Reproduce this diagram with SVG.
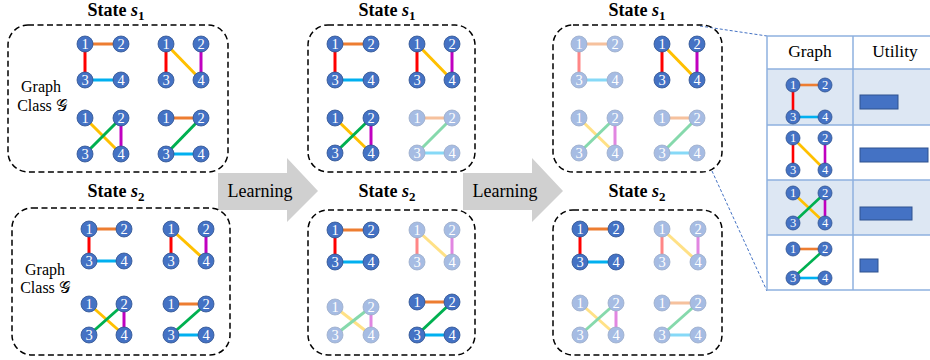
<svg xmlns="http://www.w3.org/2000/svg" xmlns:xlink="http://www.w3.org/1999/xlink" width="930" height="360" viewBox="0 0 930 360">
  <style>
    .e{stroke-width:3;fill:none}
    .te{stroke-width:2.6;fill:none}
    .or{stroke:#ED7D31}.rd{stroke:#FF0000}.cy{stroke:#00B0F0}
    .gd{stroke:#FFC000}.pu{stroke:#C000C0}.gr{stroke:#00B050}
    .nd{fill:#4472C4;stroke:#2F528F;stroke-width:0.8}
    .nl{font-family:"Liberation Serif","DejaVu Serif",serif;font-size:14.5px;fill:#fff;text-anchor:middle}
    .ml{font-family:"Liberation Serif","DejaVu Serif",serif;font-size:12.5px;fill:#fff;text-anchor:middle}
    .fade{opacity:.47}
    .box{fill:none;stroke:#000;stroke-width:1.5;stroke-dasharray:6 3.5}
    .ttl{font-family:"Liberation Serif","DejaVu Serif",serif;font-weight:bold;font-size:18px;text-anchor:middle;fill:#000}
    .lbl{font-family:"Liberation Serif","DejaVu Serif",serif;font-size:16px;text-anchor:middle;fill:#000}
    .arr{fill:#D0D0D0}
    .arrt{font-family:"Liberation Serif","DejaVu Serif",serif;font-size:18px;text-anchor:middle;fill:#000}
    .zoom{fill:none;stroke:#4472C4;stroke-width:1;stroke-dasharray:3 2}
    .grid{fill:none;stroke:#8EB1DF;stroke-width:1.5}
    .hd{font-family:"Liberation Serif","DejaVu Serif",serif;font-size:17.5px;text-anchor:middle;fill:#000}
    .bar{fill:#4472C4;stroke:#2F528F;stroke-width:1}
  </style>
  <defs>
    <g id="n1"><circle class="nd" r="8"/><text class="nl" y="5">1</text></g>
    <g id="n2"><circle class="nd" r="8"/><text class="nl" y="5">2</text></g>
    <g id="n3"><circle class="nd" r="8"/><text class="nl" y="5">3</text></g>
    <g id="n4"><circle class="nd" r="8"/><text class="nl" y="5">4</text></g>
    <g id="m1"><circle class="nd" r="7"/><text class="ml" y="4.4">1</text></g>
    <g id="m2"><circle class="nd" r="7"/><text class="ml" y="4.4">2</text></g>
    <g id="m3"><circle class="nd" r="7"/><text class="ml" y="4.4">3</text></g>
    <g id="m4"><circle class="nd" r="7"/><text class="ml" y="4.4">4</text></g>
  </defs>
  <rect width="930" height="360" fill="#fff"/>

  <!-- connectors: learning arrows and zoom-out guide lines -->
  <g id="connectors">
    <path class="arr" d="M218,173 L287,173 L287,158 L318,191 L287,222 L287,210 L218,210 Z"/>
    <text class="arrt" x="260" y="197">Learning</text>
    <path class="arr" d="M463,173 L532,173 L532,158 L563,191 L532,222 L532,210 L463,210 Z"/>
    <text class="arrt" x="505" y="197">Learning</text>
    <line class="zoom" x1="700" y1="26" x2="767" y2="36"/>
    <line class="zoom" x1="712" y1="171" x2="767" y2="291"/>
  </g>

  <!-- initial graph class, state s1 -->
  <g id="init-s1">
    <rect class="box" x="8" y="25" width="220" height="147" rx="20"/>
    <text class="ttl" x="116" y="16">State <tspan font-style="italic">s</tspan><tspan font-size="13" dy="4">1</tspan></text>
    <text class="lbl" x="41" y="92">Graph</text>
    <text class="lbl" x="42" y="111">Class 𝒢</text>
    <g id="init-s1-a" transform="translate(85,44)">
      <line class="e or" x2="36"/><line class="e rd" y2="36"/><line class="e cy" y1="36" x2="36" y2="36"/>
      <use href="#n1"/><use href="#n2" x="36"/><use href="#n3" y="36"/><use href="#n4" x="36" y="36"/>
    </g>
    <g id="init-s1-b" transform="translate(166,44)">
      <line class="e rd" y2="36"/><line class="e gd" x2="35" y2="36"/><line class="e pu" x1="35" x2="35" y2="36"/>
      <use href="#n1"/><use href="#n2" x="35"/><use href="#n3" y="36"/><use href="#n4" x="35" y="36"/>
    </g>
    <g id="init-s1-c" transform="translate(85,118)">
      <line class="e gd" x2="36" y2="36"/><line class="e gr" x1="36" y2="36"/><line class="e pu" x1="36" x2="36" y2="36"/>
      <use href="#n1"/><use href="#n2" x="36"/><use href="#n3" y="36"/><use href="#n4" x="36" y="36"/>
    </g>
    <g id="init-s1-d" transform="translate(166,118)">
      <line class="e or" x2="35"/><line class="e gr" x1="35" y2="36"/><line class="e cy" y1="36" x2="35" y2="36"/>
      <use href="#n1"/><use href="#n2" x="35"/><use href="#n3" y="36"/><use href="#n4" x="35" y="36"/>
    </g>
  </g>

  <!-- initial graph class, state s2 -->
  <g id="init-s2">
    <rect class="box" x="12" y="208" width="218" height="147" rx="20"/>
    <text class="ttl" x="116" y="197">State <tspan font-style="italic">s</tspan><tspan font-size="13" dy="4">2</tspan></text>
    <text class="lbl" x="45" y="275">Graph</text>
    <text class="lbl" x="45" y="293">Class 𝒢</text>
    <g id="init-s2-a" transform="translate(89,229)">
      <line class="e or" x2="35"/><line class="e rd" y2="32"/><line class="e cy" y1="32" x2="35" y2="32"/>
      <use href="#n1"/><use href="#n2" x="35"/><use href="#n3" y="32"/><use href="#n4" x="35" y="32"/>
    </g>
    <g id="init-s2-b" transform="translate(171,229)">
      <line class="e rd" y2="32"/><line class="e gd" x2="35" y2="32"/><line class="e pu" x1="35" x2="35" y2="32"/>
      <use href="#n1"/><use href="#n2" x="35"/><use href="#n3" y="32"/><use href="#n4" x="35" y="32"/>
    </g>
    <g id="init-s2-c" transform="translate(89,304)">
      <line class="e gd" x2="35" y2="31"/><line class="e gr" x1="35" y2="31"/><line class="e pu" x1="35" x2="35" y2="31"/>
      <use href="#n1"/><use href="#n2" x="35"/><use href="#n3" y="31"/><use href="#n4" x="35" y="31"/>
    </g>
    <g id="init-s2-d" transform="translate(171,304)">
      <line class="e or" x2="35"/><line class="e gr" x1="35" y2="31"/><line class="e cy" y1="31" x2="35" y2="31"/>
      <use href="#n1"/><use href="#n2" x="35"/><use href="#n3" y="31"/><use href="#n4" x="35" y="31"/>
    </g>
  </g>

  <!-- after first learning step, state s1 -->
  <g id="mid-s1">
    <rect class="box" x="308" y="25" width="167" height="147" rx="20"/>
    <text class="ttl" x="387" y="16">State <tspan font-style="italic">s</tspan><tspan font-size="13" dy="4">1</tspan></text>
    <g id="mid-s1-a" transform="translate(335,44)">
      <line class="e or" x2="36"/><line class="e rd" y2="36"/><line class="e cy" y1="36" x2="36" y2="36"/>
      <use href="#n1"/><use href="#n2" x="36"/><use href="#n3" y="36"/><use href="#n4" x="36" y="36"/>
    </g>
    <g id="mid-s1-b" transform="translate(417,44)">
      <line class="e rd" y2="36"/><line class="e gd" x2="35" y2="36"/><line class="e pu" x1="35" x2="35" y2="36"/>
      <use href="#n1"/><use href="#n2" x="35"/><use href="#n3" y="36"/><use href="#n4" x="35" y="36"/>
    </g>
    <g id="mid-s1-c" transform="translate(335,118)">
      <line class="e gd" x2="36" y2="35"/><line class="e gr" x1="36" y2="35"/><line class="e pu" x1="36" x2="36" y2="35"/>
      <use href="#n1"/><use href="#n2" x="36"/><use href="#n3" y="35"/><use href="#n4" x="36" y="35"/>
    </g>
    <g id="mid-s1-d" class="fade" transform="translate(417,118)">
      <line class="e or" x2="35"/><line class="e gr" x1="35" y2="35"/><line class="e cy" y1="35" x2="35" y2="35"/>
      <use href="#n1"/><use href="#n2" x="35"/><use href="#n3" y="35"/><use href="#n4" x="35" y="35"/>
    </g>
  </g>

  <!-- after first learning step, state s2 -->
  <g id="mid-s2">
    <rect class="box" x="308" y="210" width="167" height="145" rx="20"/>
    <text class="ttl" x="387" y="197">State <tspan font-style="italic">s</tspan><tspan font-size="13" dy="4">2</tspan></text>
    <g id="mid-s2-a" transform="translate(335,230)">
      <line class="e or" x2="36"/><line class="e rd" y2="32"/><line class="e cy" y1="32" x2="36" y2="32"/>
      <use href="#n1"/><use href="#n2" x="36"/><use href="#n3" y="32"/><use href="#n4" x="36" y="32"/>
    </g>
    <g id="mid-s2-b" class="fade" transform="translate(417,230)">
      <line class="e rd" y2="32"/><line class="e gd" x2="35" y2="32"/><line class="e pu" x1="35" x2="35" y2="32"/>
      <use href="#n1"/><use href="#n2" x="35"/><use href="#n3" y="32"/><use href="#n4" x="35" y="32"/>
    </g>
    <g id="mid-s2-c" class="fade" transform="translate(335,307)">
      <line class="e gd" x2="36" y2="28"/><line class="e gr" x1="36" y2="28"/><line class="e pu" x1="36" x2="36" y2="28"/>
      <use href="#n1"/><use href="#n2" x="36"/><use href="#n3" y="28"/><use href="#n4" x="36" y="28"/>
    </g>
    <g id="mid-s2-d" transform="translate(417,302)">
      <line class="e or" x2="35"/><line class="e gr" x1="35" y2="33"/><line class="e cy" y1="33" x2="35" y2="33"/>
      <use href="#n1"/><use href="#n2" x="35"/><use href="#n3" y="33"/><use href="#n4" x="35" y="33"/>
    </g>
  </g>

  <!-- after second learning step, state s1 -->
  <g id="final-s1">
    <rect class="box" x="553" y="25" width="169" height="147" rx="20"/>
    <text class="ttl" x="637" y="16">State <tspan font-style="italic">s</tspan><tspan font-size="13" dy="4">1</tspan></text>
    <g id="final-s1-a" class="fade" transform="translate(579,44)">
      <line class="e or" x2="36"/><line class="e rd" y2="36"/><line class="e cy" y1="36" x2="36" y2="36"/>
      <use href="#n1"/><use href="#n2" x="36"/><use href="#n3" y="36"/><use href="#n4" x="36" y="36"/>
    </g>
    <g id="final-s1-b" transform="translate(662,44)">
      <line class="e rd" y2="36"/><line class="e gd" x2="35" y2="36"/><line class="e pu" x1="35" x2="35" y2="36"/>
      <use href="#n1"/><use href="#n2" x="35"/><use href="#n3" y="36"/><use href="#n4" x="35" y="36"/>
    </g>
    <g id="final-s1-c" class="fade" transform="translate(579,118)">
      <line class="e gd" x2="36" y2="35"/><line class="e gr" x1="36" y2="35"/><line class="e pu" x1="36" x2="36" y2="35"/>
      <use href="#n1"/><use href="#n2" x="36"/><use href="#n3" y="35"/><use href="#n4" x="36" y="35"/>
    </g>
    <g id="final-s1-d" class="fade" transform="translate(662,118)">
      <line class="e or" x2="35"/><line class="e gr" x1="35" y2="35"/><line class="e cy" y1="35" x2="35" y2="35"/>
      <use href="#n1"/><use href="#n2" x="35"/><use href="#n3" y="35"/><use href="#n4" x="35" y="35"/>
    </g>
  </g>

  <!-- after second learning step, state s2 -->
  <g id="final-s2">
    <rect class="box" x="553" y="210" width="169" height="145" rx="20"/>
    <text class="ttl" x="637" y="197">State <tspan font-style="italic">s</tspan><tspan font-size="13" dy="4">2</tspan></text>
    <g id="final-s2-a" transform="translate(580,229)">
      <line class="e or" x2="36"/><line class="e rd" y2="33"/><line class="e cy" y1="33" x2="36" y2="33"/>
      <use href="#n1"/><use href="#n2" x="36"/><use href="#n3" y="33"/><use href="#n4" x="36" y="33"/>
    </g>
    <g id="final-s2-b" class="fade" transform="translate(662,229)">
      <line class="e rd" y2="33"/><line class="e gd" x2="36" y2="33"/><line class="e pu" x1="36" x2="36" y2="33"/>
      <use href="#n1"/><use href="#n2" x="36"/><use href="#n3" y="33"/><use href="#n4" x="36" y="33"/>
    </g>
    <g id="final-s2-c" class="fade" transform="translate(580,303)">
      <line class="e gd" x2="36" y2="32"/><line class="e gr" x1="36" y2="32"/><line class="e pu" x1="36" x2="36" y2="32"/>
      <use href="#n1"/><use href="#n2" x="36"/><use href="#n3" y="32"/><use href="#n4" x="36" y="32"/>
    </g>
    <g id="final-s2-d" class="fade" transform="translate(662,303)">
      <line class="e or" x2="36"/><line class="e gr" x1="36" y2="32"/><line class="e cy" y1="32" x2="36" y2="32"/>
      <use href="#n1"/><use href="#n2" x="36"/><use href="#n3" y="32"/><use href="#n4" x="36" y="32"/>
    </g>
  </g>

  <!-- utility table for state s1 -->
  <g id="utility-table">
    <rect x="767" y="69" width="163" height="56" fill="#DDE7F3"/>
    <rect x="767" y="180" width="163" height="55" fill="#DDE7F3"/>
    <path class="grid" d="M767,36 H930 M767,69 H930 M767,125 H930 M767,180 H930 M767,235 H930 M767,290 H930 M767,36 V290 M853,36 V290"/>
    <text class="hd" x="810" y="57">Graph</text>
    <text class="hd" x="895" y="57">Utility</text>
    <g id="row-a" transform="translate(793,85)">
      <line class="te or" x2="32"/><line class="te rd" y2="32"/><line class="te cy" y1="32" x2="32" y2="32"/>
      <use href="#m1"/><use href="#m2" x="32"/><use href="#m3" y="32"/><use href="#m4" x="32" y="32"/>
    </g>
    <g id="row-b" transform="translate(793,138)">
      <line class="te rd" y2="32"/><line class="te gd" x2="32" y2="32"/><line class="te pu" x1="32" x2="32" y2="32"/>
      <use href="#m1"/><use href="#m2" x="32"/><use href="#m3" y="32"/><use href="#m4" x="32" y="32"/>
    </g>
    <g id="row-c" transform="translate(793,193)">
      <line class="te gd" x2="32" y2="30"/><line class="te gr" x1="32" y2="30"/><line class="te pu" x1="32" x2="32" y2="30"/>
      <use href="#m1"/><use href="#m2" x="32"/><use href="#m3" y="30"/><use href="#m4" x="32" y="30"/>
    </g>
    <g id="row-d" transform="translate(793,249)">
      <line class="te or" x2="32"/><line class="te gr" x1="32" y2="29"/><line class="te cy" y1="29" x2="32" y2="29"/>
      <use href="#m1"/><use href="#m2" x="32"/><use href="#m3" y="29"/><use href="#m4" x="32" y="29"/>
    </g>
    <rect class="bar" x="860" y="95" width="38" height="14"/>
    <rect class="bar" x="860" y="148" width="68" height="14"/>
    <rect class="bar" x="860" y="207" width="52" height="13"/>
    <rect class="bar" x="860" y="259" width="18" height="13"/>
  </g>
</svg>
